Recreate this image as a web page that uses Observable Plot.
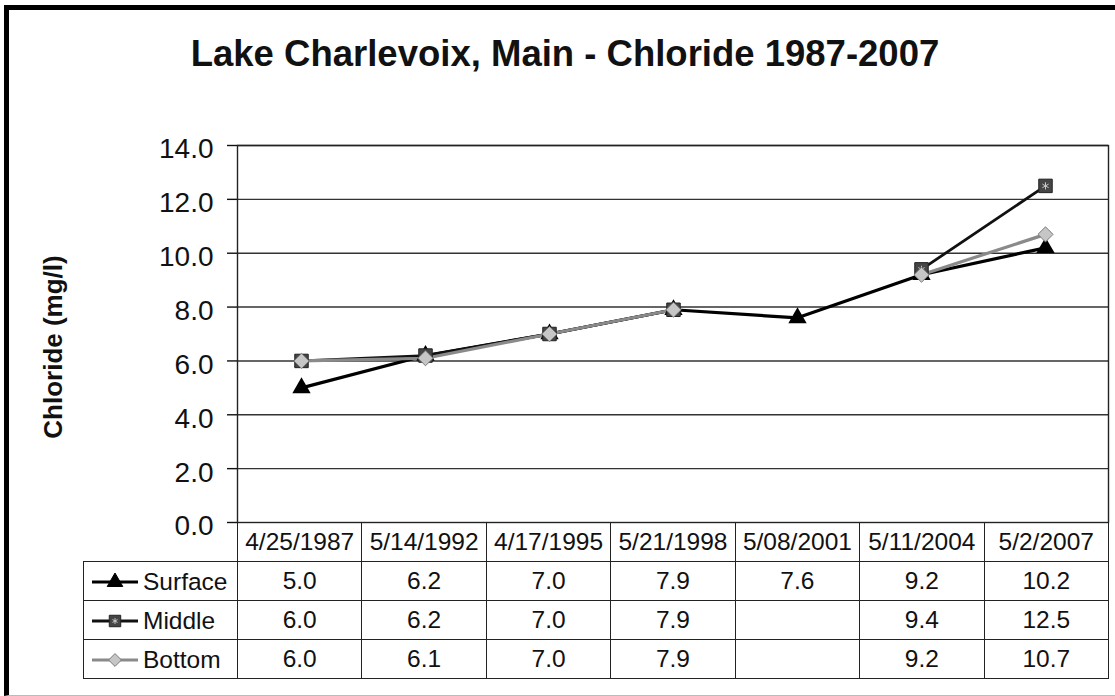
<!DOCTYPE html>
<html>
<head>
<meta charset="utf-8">
<script src="https://cdn.jsdelivr.net/npm/d3@7"></script>
<script src="https://cdn.jsdelivr.net/npm/@observablehq/plot@0.6"></script>
<style>
  html, body { margin: 0; padding: 0; background: #fff; }
  #chart { position: relative; width: 1115px; height: 696px; overflow: hidden;
           font-family: "Liberation Sans", Arial, sans-serif; color: #111; }
  #frame { position: absolute; left: 4px; top: 5px; width: 1120px; height: 691px; box-sizing: border-box;
           border-left: 5px solid #000; border-top: 5px solid #000; border-bottom: 1px solid #bbb;
           pointer-events: none; }
  #title { position: absolute; left: 0; top: 36px; width: 1130px; text-align: center;
           font-weight: bold; font-size: 36.5px; line-height: 1; white-space: nowrap; }
  #ytitle { position: absolute; left: 53px; top: 347px; transform: translate(-50%, -50%) rotate(-90deg);
            font-weight: bold; font-size: 26px; line-height: 1; white-space: nowrap; }
  #plot { position: absolute; left: 0; top: 0; }
  #table { position: absolute; left: 83px; top: 522px; border-collapse: collapse; table-layout: fixed;
           width: 1025px; font-size: 24.5px; color: #111; }
  #table td { border: 1.3px solid #222; padding: 0; text-align: center; vertical-align: middle;
              white-space: nowrap; overflow: hidden; }
  #table tr { height: 39px; }
  #table td.corner { border-top: none; border-left: none; }
  #table td.legend { text-align: left; padding-left: 8px; }
  #table td.legend svg { vertical-align: middle; margin-right: 5px; }
  #table td.legend span { vertical-align: middle; }
</style>
</head>
<body>
<div id="chart">
  <div id="title">Lake Charlevoix, Main - Chloride 1987-2007</div>
  <div id="ytitle">Chloride (mg/l)</div>
  <div id="plot"></div>
  <table id="table"></table>
  <div id="frame"></div>
</div>
<script>
// ---- data ----
const dates   = ["4/25/1987", "5/14/1992", "4/17/1995", "5/21/1998", "5/08/2001", "5/11/2004", "5/2/2007"];
const surface = [5.0, 6.2, 7.0, 7.9, 7.6, 9.2, 10.2];
const middle  = [6.0, 6.2, 7.0, 7.9, null, 9.4, 12.5];
const bottom  = [6.0, 6.1, 7.0, 7.9, null, 9.2, 10.7];
const seriesNames = ["Surface", "Middle", "Bottom"];
const yTicks = [0, 2, 4, 6, 8, 10, 12, 14];

const rows = dates.map((date, i) => ({date, surface: surface[i], middle: middle[i], bottom: bottom[i]}));
const has = k => rows.filter(d => d[k] != null);

// ---- styles ----
const S = {
  surface: {stroke: "#000", strokeWidth: 3.2, symbol: "triangle", fill: "#000", r: 6.8, mstroke: "#000"},
  middle:  {stroke: "#111", strokeWidth: 2.8, symbol: "square", fill: "#454545", r: 7.6, mstroke: "#222"},
  bottom:  {stroke: "#8a8a8a", strokeWidth: 3.2, symbol: "diamond2", fill: "#c6c6c6", r: 6.8, mstroke: "#7a7a7a"}
};

const chart = Plot.plot({
  width: 1115,
  height: 526,
  marginLeft: 237,
  marginRight: 7,
  marginTop: 145,
  marginBottom: 4,
  x: {type: "point", domain: dates, padding: 0.5, axis: null},
  y: {domain: [0, 14]},
  style: {fontFamily: "'Liberation Sans', Arial, sans-serif", fontSize: "28px", color: "#111",
          background: "transparent", overflow: "visible"},
  marks: [
    Plot.ruleY(yTicks.filter(v => v > 0), {stroke: "#333", strokeWidth: 1.4}),
    Plot.frame({stroke: "#222", strokeWidth: 1.4}),
    Plot.axisY(yTicks, {anchor: "left", tickSize: 10, tickPadding: 15, fill: "none", stroke: "#111", strokeWidth: 1.4, label: null}),
    Plot.axisY(yTicks, {anchor: "left", tickSize: 10, tickPadding: 14, stroke: "none", fill: "#111",
                        tickFormat: d => d.toFixed(1), dy: 4, label: null}),
    // lines
    Plot.line(rows, {x: "date", y: "surface", stroke: S.surface.stroke, strokeWidth: S.surface.strokeWidth}),
    Plot.line(rows, {x: "date", y: "middle", stroke: S.middle.stroke, strokeWidth: S.middle.strokeWidth}),
    Plot.line(rows, {x: "date", y: "bottom", stroke: S.bottom.stroke, strokeWidth: S.bottom.strokeWidth}),
    // markers
    Plot.dot(has("surface"), {x: "date", y: "surface", symbol: "triangle", fill: S.surface.fill, r: S.surface.r}),
    Plot.dot(has("middle"), {x: "date", y: "middle", symbol: "square", fill: S.middle.fill, stroke: S.middle.mstroke, strokeWidth: 1, r: S.middle.r}),
    Plot.dot(has("middle"), {x: "date", y: "middle", symbol: "asterisk", stroke: "#c8c8c8", strokeWidth: 1, r: 3.4}),
    Plot.dot(has("bottom"), {x: "date", y: "bottom", symbol: "diamond2", fill: S.bottom.fill, stroke: S.bottom.mstroke, strokeWidth: 1, r: S.bottom.r})
  ]
});
document.getElementById("plot").appendChild(chart);

// ---- data table ----
const table = d3.select("#table");
const cg = table.append("colgroup");
cg.append("col").style("width", "154px");
dates.forEach(() => cg.append("col").style("width", (871 / 7) + "px"));

const head = table.append("tr");
head.append("td").attr("class", "corner");
dates.forEach(d => head.append("td").text(d));

const symMap = {triangle: d3.symbolTriangle, square: d3.symbolSquare, diamond2: d3.symbolDiamond2};
const data = {surface, middle, bottom};
["surface", "middle", "bottom"].forEach((key, k) => {
  const st = S[key];
  const tr = table.append("tr");
  const lc = tr.append("td").attr("class", "legend");
  const svg = lc.append("svg").attr("width", 46).attr("height", 20);
  svg.append("line").attr("x1", 0).attr("x2", 46).attr("y1", 10).attr("y2", 10)
     .attr("stroke", st.stroke).attr("stroke-width", 2.8);
  const size = Math.PI * (st.r * 0.85) ** 2;
  svg.append("path").attr("transform", "translate(23,10)")
     .attr("d", d3.symbol(symMap[st.symbol], size)())
     .attr("fill", st.fill).attr("stroke", st.mstroke).attr("stroke-width", 1);
  if (key === "middle") {
    svg.append("path").attr("transform", "translate(23,10)")
       .attr("d", d3.symbol(d3.symbolAsterisk, Math.PI * 2.7 ** 2)())
       .attr("fill", "none").attr("stroke", "#c8c8c8").attr("stroke-width", 1);
  }
  lc.append("span").text(seriesNames[k]);
  data[key].forEach(v => tr.append("td").text(v == null ? "" : v.toFixed(1)));
});
</script>
</body>
</html>
